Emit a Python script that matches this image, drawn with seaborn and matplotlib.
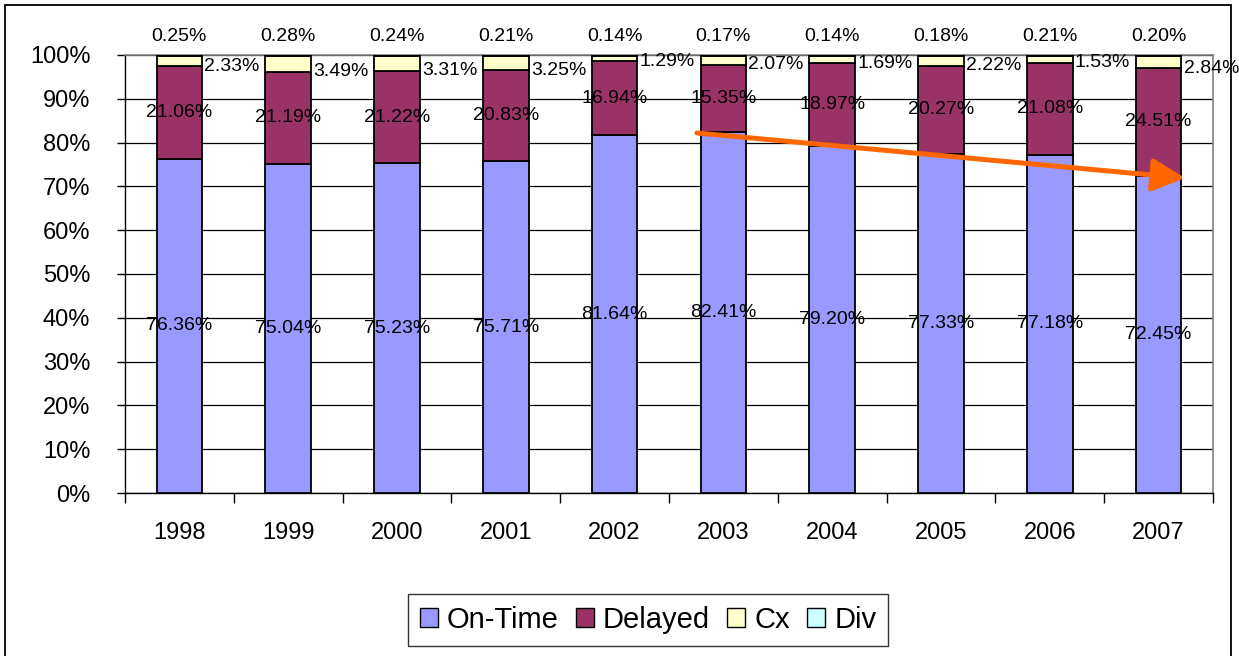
import matplotlib
matplotlib.use('Agg')
import matplotlib.pyplot as plt
import seaborn as sns
from matplotlib.patches import Patch, Rectangle

# data (percent)
years = ['1998', '1999', '2000', '2001', '2002', '2003', '2004', '2005', '2006', '2007']
on_time = [76.36, 75.04, 75.23, 75.71, 81.64, 82.41, 79.20, 77.33, 77.18, 72.45]
delayed = [21.06, 21.19, 21.22, 20.83, 16.94, 15.35, 18.97, 20.27, 21.08, 24.51]
cx = [2.33, 3.49, 3.31, 3.25, 1.29, 2.07, 1.69, 2.22, 1.53, 2.84]
div = [0.25, 0.28, 0.24, 0.21, 0.14, 0.17, 0.14, 0.18, 0.21, 0.20]

series = [('On-Time', on_time, '#9999FF'),
          ('Delayed', delayed, '#993366'),
          ('Cx', cx, '#FFFFCC'),
          ('Div', div, '#CCFFFF')]

sns.set_style('white')
plt.rcParams['font.family'] = ['Liberation Sans', 'DejaVu Sans']
plt.rcParams['text.color'] = 'black'
plt.rcParams['xtick.color'] = 'black'
plt.rcParams['ytick.color'] = 'black'
plt.rcParams['xtick.labelcolor'] = 'black'
plt.rcParams['ytick.labelcolor'] = 'black'

fig = plt.figure(figsize=(12.39, 6.56), dpi=100)
ax = fig.add_axes([125 / 1239, 1 - 493 / 656, (1213 - 125) / 1239, (493 - 55) / 656])

bar_w = 0.42
bottom = [0.0] * len(years)
for name, vals, col in series:
    sns.barplot(x=years, y=vals, bottom=bottom, color=col, width=bar_w,
                saturation=1, edgecolor='black', linewidth=1.3, ax=ax, zorder=3)
    bottom = [b + v for b, v in zip(bottom, vals)]

# data labels
fs = 14
for i in range(len(years)):
    ax.text(i, on_time[i] / 2, f'{on_time[i]:.2f}%', ha='center', va='center', fontsize=fs, zorder=5)
    ax.text(i, on_time[i] + delayed[i] / 2, f'{delayed[i]:.2f}%', ha='center', va='center', fontsize=fs, zorder=5)
    ax.text(i + bar_w / 2 + 0.02, on_time[i] + delayed[i], f'{cx[i]:.2f}%', ha='left', va='center',
            fontsize=fs, zorder=5, clip_on=False)
    ax.text(i, 104.2, f'{div[i]:.2f}%', ha='center', va='center', fontsize=fs, zorder=5, clip_on=False)

# trend arrow
ax.annotate('', xy=(9.243, 71.9), xytext=(4.757, 82.2),
            arrowprops=dict(arrowstyle='-|>,head_length=1.0,head_width=0.5', color='#FF6600',
                            lw=3.6, mutation_scale=20, shrinkA=0, shrinkB=0), zorder=6)

ax.set_xlim(-0.5, len(years) - 0.5)
ax.set_ylim(0, 100)
ax.set_yticks(range(0, 101, 10))
ax.set_yticklabels([f'{v}%' for v in range(0, 101, 10)])
ax.set_xticks(range(len(years)))
ax.set_xticklabels(years)
ax.set_xticks([i - 0.5 for i in range(len(years) + 1)], minor=True)
ax.tick_params(axis='y', which='major', direction='out', length=6, width=1, color='black',
               labelsize=17, pad=19, left=True)
ax.tick_params(axis='x', which='major', length=0, labelsize=17, pad=21)
ax.tick_params(axis='x', which='minor', direction='out', length=7, width=1, color='black', bottom=True)
ax.set_xlabel('')
ax.set_ylabel('')

ax.yaxis.grid(True, color='black', linewidth=0.9)
ax.set_axisbelow(True)
for s in ['left', 'bottom']:
    ax.spines[s].set_color('black')
    ax.spines[s].set_linewidth(1)
for s in ['top', 'right']:
    ax.spines[s].set_color('#808080')
    ax.spines[s].set_linewidth(1.2)

handles = [Patch(facecolor=c, edgecolor='black', linewidth=1, label=n) for n, _, c in series]
leg = fig.legend(handles=handles, loc='center', bbox_to_anchor=(648 / 1239, 1 - 620 / 656), ncol=4,
                 fontsize=21, frameon=True, fancybox=False, handlelength=0.62, handleheight=0.62,
                 handletextpad=0.3, columnspacing=0.6, borderpad=0.4)
leg.get_frame().set_edgecolor('black')
leg.get_frame().set_linewidth(1)

# outer chart border
fig.patches.append(Rectangle((5 / 1239, -0.01), (1231 - 5) / 1239, 1.0 - 5 / 656 + 0.01,
                             transform=fig.transFigure, fill=False, edgecolor='black', linewidth=1.3))

fig.savefig('out.png', dpi=100)
